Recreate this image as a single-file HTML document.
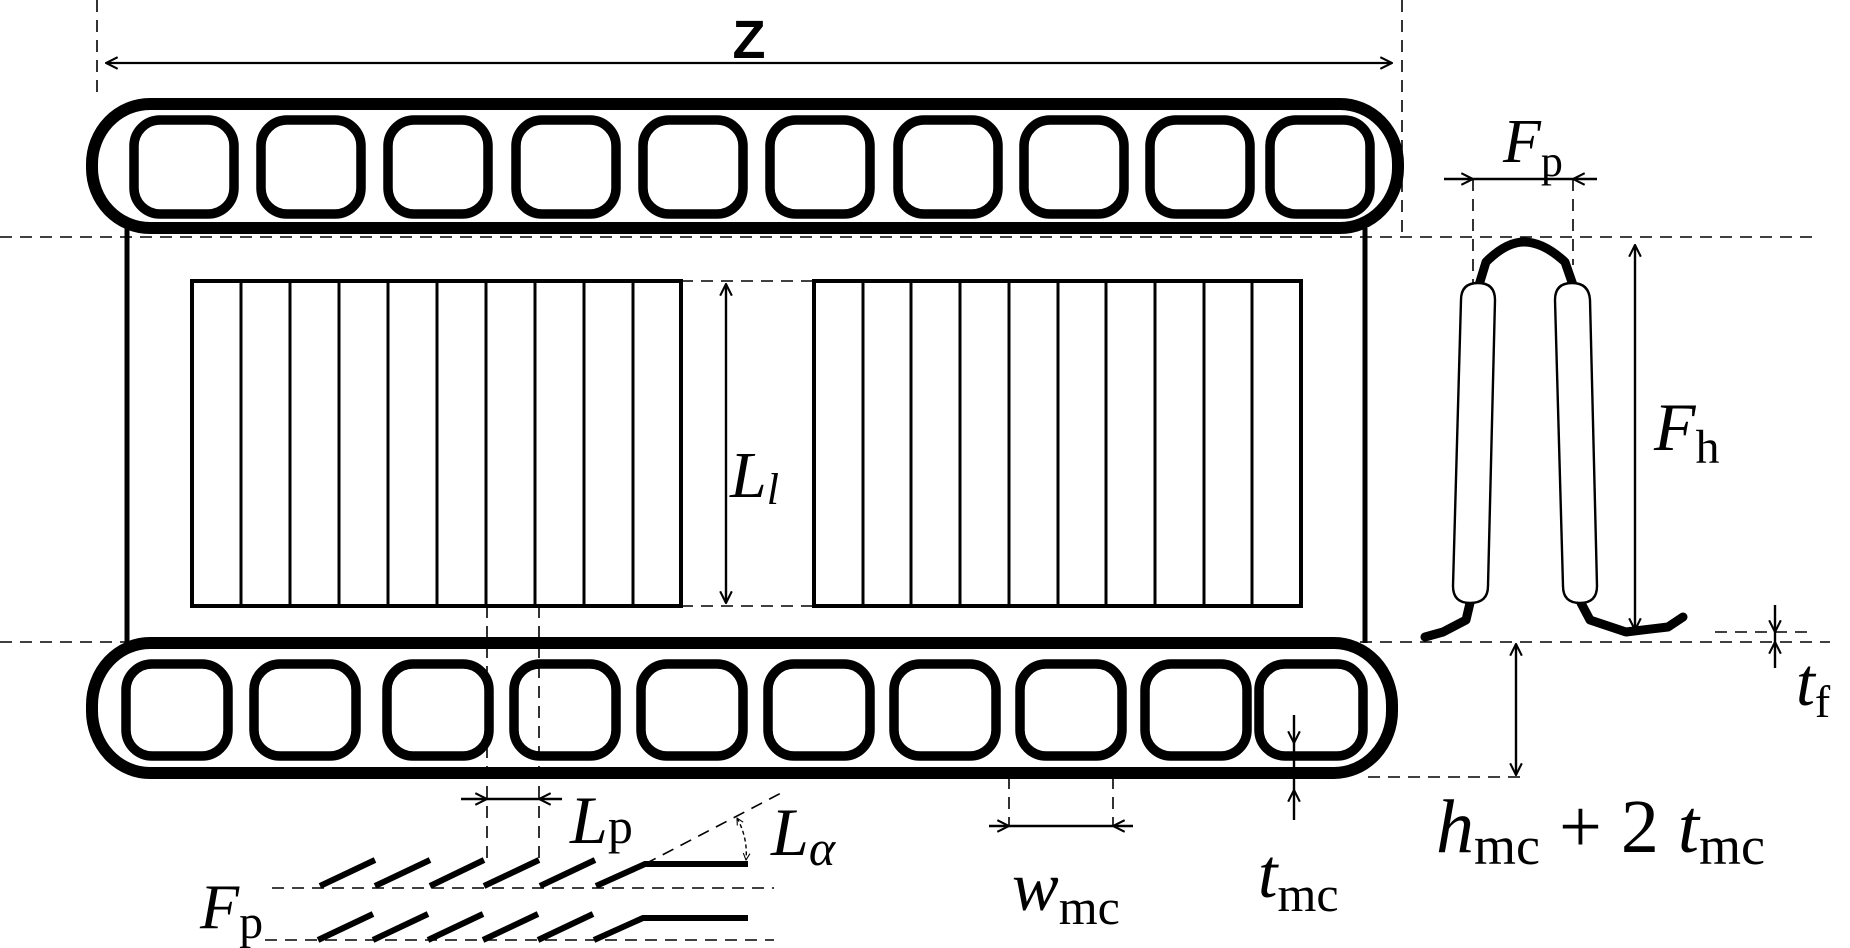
<!DOCTYPE html>
<html><head><meta charset="utf-8"><style>
html,body{margin:0;padding:0;background:#fff;}
svg{display:block;}
text{font-family:"Liberation Serif",serif;fill:#000;}
.i{font-style:italic;}
</style></head><body>
<svg width="1850" height="948" viewBox="0 0 1850 948" xmlns="http://www.w3.org/2000/svg">
<defs>
<marker id="a" viewBox="0 0 12 12" refX="11" refY="6" markerWidth="14" markerHeight="14" markerUnits="userSpaceOnUse" orient="auto-start-reverse">
<path d="M1,1 L11,6 L1,11" fill="none" stroke="#000" stroke-width="1.8"/>
</marker>
<marker id="s" viewBox="0 0 12 12" refX="11" refY="6" markerWidth="8" markerHeight="8" markerUnits="userSpaceOnUse" orient="auto-start-reverse">
<path d="M1,1 L11,6 L1,11" fill="none" stroke="#000" stroke-width="1.6"/>
</marker>
</defs>
<g stroke="#000" fill="none">
<g stroke-width="1.6" stroke-dasharray="12,8">
<line x1="97" y1="0" x2="97" y2="100"/>
<line x1="1402" y1="0" x2="1402" y2="237"/>
<line x1="0" y1="237" x2="1812" y2="237"/>
<line x1="0" y1="642" x2="1830" y2="642"/>
<line x1="681" y1="281" x2="814" y2="281"/>
<line x1="681" y1="606" x2="814" y2="606"/>
<line x1="1368" y1="777" x2="1526" y2="777"/>
<line x1="1715" y1="632" x2="1815" y2="632"/>
<line x1="487" y1="606" x2="487" y2="860"/>
<line x1="539" y1="606" x2="539" y2="860"/>
<line x1="1009" y1="777" x2="1009" y2="826"/>
<line x1="1113" y1="777" x2="1113" y2="826"/>
<line x1="1473" y1="179" x2="1473" y2="285"/>
<line x1="1573" y1="179" x2="1573" y2="265"/>
<line x1="272" y1="888" x2="774" y2="888"/>
<line x1="265" y1="940" x2="774" y2="940"/>
<line x1="645" y1="864" x2="783" y2="792"/>
</g>
<line x1="106" y1="63" x2="1392" y2="63" stroke-width="2.2" marker-start="url(#a)" marker-end="url(#a)"/>
<rect x="92" y="104" width="1306" height="124" rx="58" ry="60" stroke-width="12"/>
<rect x="92" y="643" width="1300" height="130" rx="58" ry="62" stroke-width="12"/>
<g stroke-width="9.5">
<rect x="134" y="120" width="100" height="94" rx="26"/>
<rect x="261" y="120" width="100" height="94" rx="26"/>
<rect x="388" y="120" width="100" height="94" rx="26"/>
<rect x="516" y="120" width="100" height="94" rx="26"/>
<rect x="643" y="120" width="100" height="94" rx="26"/>
<rect x="770" y="120" width="100" height="94" rx="26"/>
<rect x="898" y="120" width="100" height="94" rx="26"/>
<rect x="1024" y="120" width="100" height="94" rx="26"/>
<rect x="1150" y="120" width="100" height="94" rx="26"/>
<rect x="1270" y="120" width="100" height="94" rx="26"/>
<rect x="126" y="664" width="102" height="92" rx="26"/>
<rect x="254" y="664" width="102" height="92" rx="26"/>
<rect x="387" y="664" width="102" height="92" rx="26"/>
<rect x="514" y="664" width="102" height="92" rx="26"/>
<rect x="641" y="664" width="102" height="92" rx="26"/>
<rect x="768" y="664" width="102" height="92" rx="26"/>
<rect x="894" y="664" width="102" height="92" rx="26"/>
<rect x="1020" y="664" width="102" height="92" rx="26"/>
<rect x="1145" y="664" width="102" height="92" rx="26"/>
<rect x="1259" y="664" width="104" height="92" rx="26"/>
</g>
<line x1="127" y1="228" x2="127" y2="643" stroke-width="5"/>
<line x1="1365" y1="228" x2="1365" y2="643" stroke-width="5"/>
<rect x="192" y="281" width="489" height="325" stroke-width="4"/>
<rect x="814" y="281" width="487" height="325" stroke-width="4"/>
<g stroke-width="3">
<line x1="241" y1="281" x2="241" y2="606"/><line x1="290" y1="281" x2="290" y2="606"/>
<line x1="339" y1="281" x2="339" y2="606"/><line x1="388" y1="281" x2="388" y2="606"/>
<line x1="437" y1="281" x2="437" y2="606"/><line x1="486" y1="281" x2="486" y2="606"/>
<line x1="535" y1="281" x2="535" y2="606"/><line x1="584" y1="281" x2="584" y2="606"/>
<line x1="633" y1="281" x2="633" y2="606"/>
<line x1="863" y1="281" x2="863" y2="606"/><line x1="911" y1="281" x2="911" y2="606"/>
<line x1="960" y1="281" x2="960" y2="606"/><line x1="1009" y1="281" x2="1009" y2="606"/>
<line x1="1058" y1="281" x2="1058" y2="606"/><line x1="1106" y1="281" x2="1106" y2="606"/>
<line x1="1155" y1="281" x2="1155" y2="606"/><line x1="1204" y1="281" x2="1204" y2="606"/>
<line x1="1252" y1="281" x2="1252" y2="606"/>
</g>
<g stroke-width="2.4">
<line x1="726" y1="284" x2="726" y2="603" marker-start="url(#a)" marker-end="url(#a)"/>
<line x1="1635" y1="245" x2="1635" y2="630" marker-start="url(#a)" marker-end="url(#a)"/>
<line x1="1516" y1="644" x2="1516" y2="775" marker-start="url(#a)" marker-end="url(#a)"/>
<line x1="1444" y1="179" x2="1473" y2="179" marker-end="url(#a)"/>
<line x1="1473" y1="179" x2="1573" y2="179"/>
<line x1="1597" y1="179" x2="1573" y2="179" marker-end="url(#a)"/>
<line x1="461" y1="799" x2="487" y2="799" marker-end="url(#a)"/>
<line x1="487" y1="799" x2="539" y2="799"/>
<line x1="562" y1="799" x2="539" y2="799" marker-end="url(#a)"/>
<line x1="989" y1="826" x2="1009" y2="826" marker-end="url(#a)"/>
<line x1="1009" y1="826" x2="1113" y2="826"/>
<line x1="1133" y1="826" x2="1113" y2="826" marker-end="url(#a)"/>
<line x1="1294" y1="715" x2="1294" y2="743" marker-end="url(#a)"/>
<line x1="1294" y1="743" x2="1294" y2="790"/>
<line x1="1294" y1="820" x2="1294" y2="790" marker-end="url(#a)"/>
<line x1="1775" y1="605" x2="1775" y2="632" marker-end="url(#a)"/>
<line x1="1775" y1="632" x2="1775" y2="642"/>
<line x1="1775" y1="668" x2="1775" y2="642" marker-end="url(#a)"/>
</g>
<path d="M737,818 Q748,838 746,860" stroke-width="1.4" stroke-dasharray="4,3" marker-start="url(#s)" marker-end="url(#s)"/>
<g stroke-width="6">
<line x1="320" y1="886" x2="375" y2="860"/><line x1="375" y1="886" x2="430" y2="860"/>
<line x1="430" y1="886" x2="484" y2="860"/><line x1="484" y1="886" x2="539" y2="860"/>
<line x1="540" y1="886" x2="595" y2="860"/>
<polyline points="596,886 645,864 748,864"/>
<line x1="318" y1="940" x2="373" y2="914"/><line x1="373" y1="940" x2="428" y2="914"/>
<line x1="428" y1="940" x2="483" y2="914"/><line x1="483" y1="940" x2="538" y2="914"/>
<line x1="538" y1="940" x2="593" y2="914"/>
<polyline points="594,940 643,918 748,918"/>
</g>
<g stroke-width="9" stroke-linejoin="round" stroke-linecap="round">
<path d="M1479,285 L1486,262 C1500,248 1512,242 1524,242 C1538,242 1552,250 1565,262 L1573,285"/>
<polyline points="1470,603 1466,620 1443,632 1425,637"/>
<polyline points="1581,603 1590,620 1626,632 1668,627 1683,617"/>
</g>
<g stroke-width="2.4" fill="#fff">
<path d="M1461,300 Q1461,283 1478,283 Q1495,283 1495,300 L1488,586 Q1488,603 1470,603 Q1453,603 1453,586 Z"/>
<path d="M1555,300 Q1555,283 1572,283 Q1589,283 1590,300 L1597,586 Q1597,603 1580,603 Q1563,603 1563,586 Z"/>
</g>
</g>
<text x="749" y="58" font-weight="bold" font-size="54" text-anchor="middle" style="font-family:'Liberation Sans',sans-serif">Z</text>
<text x="1503" y="162" font-size="62"><tspan class="i">F</tspan><tspan font-size="44" dy="14">p</tspan></text>
<text x="1654" y="450" font-size="68"><tspan class="i">F</tspan><tspan font-size="48" dy="13">h</tspan></text>
<text x="730" y="497" font-size="66"><tspan class="i">L</tspan><tspan class="i" font-size="44" dy="7">l</tspan></text>
<text x="570" y="843" font-size="68"><tspan class="i">L</tspan><tspan font-size="50" dy="0">p</tspan></text>
<text x="771" y="855" font-size="68"><tspan class="i">L</tspan><tspan class="i" font-size="50" dy="10">α</tspan></text>
<text x="200" y="928" font-size="64"><tspan class="i">F</tspan><tspan font-size="48" dy="10">p</tspan></text>
<text x="1012" y="910" font-size="70"><tspan class="i">w</tspan><tspan font-size="50" dy="14">mc</tspan></text>
<text x="1258" y="897" font-size="70"><tspan class="i">t</tspan><tspan font-size="50" dy="14">mc</tspan></text>
<text x="1436" y="852" font-size="76"><tspan class="i">h</tspan><tspan font-size="54" dy="12">mc</tspan><tspan dy="-12"> + 2 </tspan><tspan class="i">t</tspan><tspan font-size="54" dy="12">mc</tspan></text>
<text x="1796" y="705" font-size="68"><tspan class="i">t</tspan><tspan font-size="46" dy="12">f</tspan></text>
</svg>
</body></html>
